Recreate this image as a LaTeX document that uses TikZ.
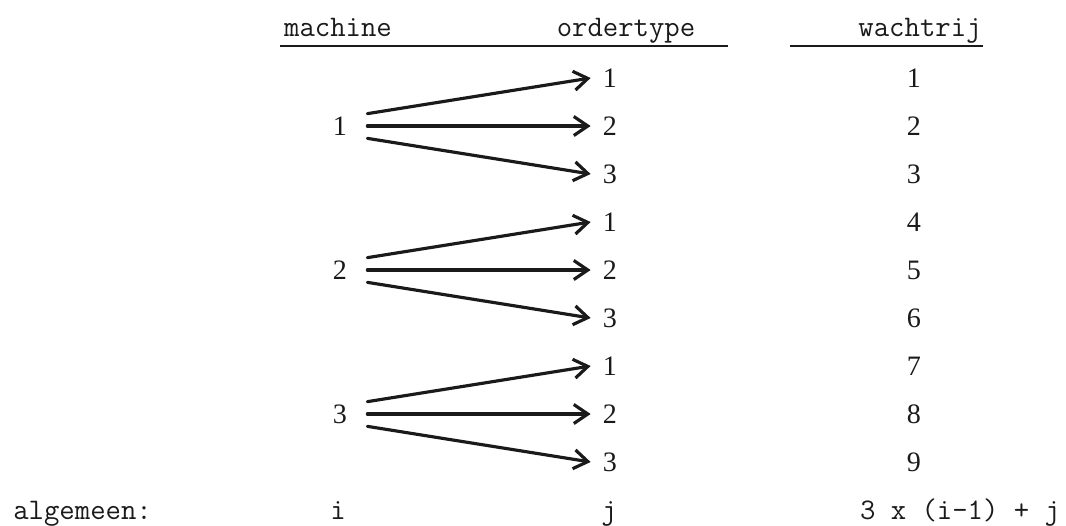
\documentclass[tikz,border=0pt]{standalone}
\usepackage{fontspec}
\setmainfont{Liberation Serif}
\usetikzlibrary{arrows.meta}
\definecolor{inkt}{HTML}{1A1A1A}
\tikzset{
  kop/.style={font=\fontsize{17}{20}\selectfont\ttfamily,text=inkt,
              inner sep=0pt,anchor=base},
  getal/.style={font=\fontsize{16}{19}\selectfont,text=inkt,inner sep=0pt},
  machinenr/.style={getal,minimum height=0.48cm,inner xsep=0.4cm},
  ordernr/.style={getal,inner xsep=0.24cm},
  pijl/.style={-{Straight Barb[length=2.8mm,width=3.8mm]},line width=1.8pt,
               draw=inkt,line cap=round},
  streep/.style={line width=1.1pt,draw=inkt}
}

\begin{document}
\begin{tikzpicture}[x=0.02cm,y=-0.02cm]
  \useasboundingbox (0,0) rectangle (1066,525);
  % kopjes met onderstreping
  \node[kop] (hmach) at (338,36) {machine};
  \node[kop] (hord) at (626,36) {ordertype};
  \node[kop] (hwacht) at (920,36) {wachtrij};
  \draw[streep] (280,46) -- (728,46);
  \draw[streep] (790,46) -- (983,46);
  % ordertypes en wachtrijen, 9 rijen
  \foreach \k in {1,...,9} {
    \pgfmathsetmacro{\yk}{78+48*(\k-1)}
    \pgfmathtruncatemacro{\j}{mod(\k-1,3)+1}
    \node[ordernr] (o\k) at (610,\yk) {\j};
    \node[getal] (w\k) at (914,\yk) {\k};
  }
  % machines met hun drie pijlen
  \foreach \m in {1,2,3} {
    \pgfmathsetmacro{\ym}{126+144*(\m-1)}
    \node[machinenr] (m\m) at (340,\ym) {\m};
    \foreach \j/\a in {1/north east,2/east,3/south east} {
      \pgfmathtruncatemacro{\k}{3*(\m-1)+\j}
      \draw[pijl] (m\m.\a) -- (o\k.west);
    }
  }
  % algemene regel
  \node[kop,anchor=base west] (alg) at (13,519) {algemeen:};
  \node[kop] (algi) at (338,519) {i};
  \node[kop] (algj) at (609,519) {j};
  \node[kop] (algw) at (960,519) {3 x (i-1) + j};
\end{tikzpicture}
\end{document}
